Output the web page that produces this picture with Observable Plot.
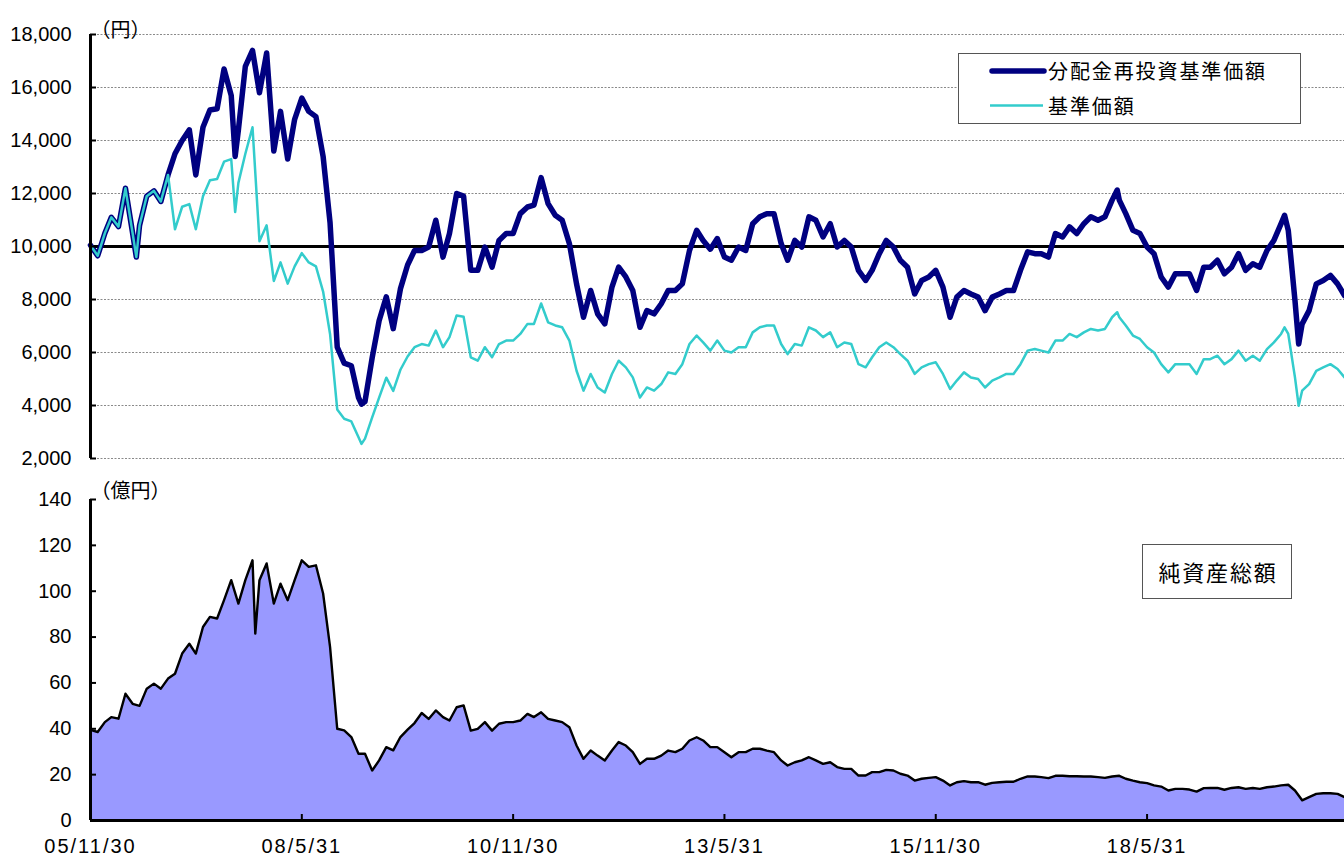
<!DOCTYPE html>
<html><head><meta charset="utf-8">
<script src="https://cdn.jsdelivr.net/npm/d3@7"></script>
<script src="https://cdn.jsdelivr.net/npm/@observablehq/plot@0.6"></script>
<style>
body{margin:0;background:#fff;}
#chart{position:relative;width:1344px;height:855px;font-family:"Noto Sans CJK JP",sans-serif;color:#000;}
#chart svg{display:block;}
.box{position:absolute;border:1px solid #555;background:#fff;box-sizing:border-box;}
.lbl{position:absolute;white-space:nowrap;}
</style></head><body><div id="chart"></div>
<script>
// ---- data (month-end values, starting 2005-11-30) ----
const navy = [
 10050, 9650,10500,11100,10750,12200,10500,10800,11900,12100,11700,12700,
 13500,14000,14400,12700,14500,15150,15200,16700,15700,14400,16800,17400,
 15800,17300,13600,15100,13300,14800,15600,15100,14900,13400,10900, 6200,
  5600, 5500, 4300, 4150, 5800, 7200, 8100, 6900, 8400, 9300, 9850, 9850,
  9980,10990, 9600,10490,12000,11900, 9100, 9100, 9980, 9220,10230,10490,
 10490,11240,11490,11560,12600,11620,11180,10990,10110, 8590, 7330, 8340,
  7460, 7080, 8470, 9220, 8850, 8340, 6950, 7580, 7460, 7840, 8340, 8340,
  8590, 9850,10610,10230, 9900,10300, 9600, 9480, 9980, 9850,10860,11120,
 11240,11240,10110, 9480,10230, 9980,11120,10990,10360,10860, 9980,10230,
  9980, 9100, 8720, 9100, 9730,10230, 9980, 9480, 9220, 8210, 8720, 8850,
  9100, 8470, 7330, 8090, 8340, 8210, 8090, 7580, 8090, 8210, 8340, 8340,
  9100, 9800, 9730, 9730, 9600,10490,10360,10740,10490,10860,11120,10990,
 11120,11750,11750,11240,10610,10490, 9980, 9730, 8850, 8470, 8970, 8970,
  8970, 8340, 9220, 9220, 9480, 8970, 9220, 9730, 9100, 9350, 9220, 9850,
 10230,10860,10610, 7960, 7080, 7580, 8590, 8720, 8910, 8590, 8150];
const cyan = [
 10050, 9650,10500,11100,10750,12200,10500,10800,11900,12100,11700,12700,
 10650,11500,11600,10650,11900,12500,12550,13200,13300,12400,13500,14500,
 10200,10800, 8700, 9400, 8600, 9250, 9750, 9400, 9250, 8300, 6700, 3850,
  3500, 3400, 2800, 2750, 3550, 4300, 5050, 4550, 5350, 5850, 6200, 6320,
  6260, 6830, 6200, 6580, 7400, 7350, 5820, 5690, 6200, 5820, 6320, 6450,
  6450, 6700, 7080, 7080, 7850, 7140, 7020, 6950, 6450, 5310, 4560, 5190,
  4680, 4490, 5190, 5690, 5440, 5060, 4300, 4680, 4560, 4810, 5250, 5190,
  5560, 6320, 6640, 6380, 6070, 6450, 6070, 6000, 6200, 6200, 6760, 6950,
  7020, 7020, 6320, 5940, 6320, 6260, 6950, 6830, 6580, 6760, 6200, 6380,
  6320, 5560, 5440, 5820, 6200, 6380, 6200, 5940, 5690, 5190, 5440, 5560,
  5630, 5190, 4620, 4940, 5250, 5060, 5000, 4680, 4940, 5060, 5190, 5190,
  5560, 6070, 6130, 6070, 6000, 6450, 6450, 6700, 6580, 6760, 6890, 6830,
  6890, 7330, 7330, 7020, 6640, 6510, 6200, 6000, 5560, 5250, 5560, 5560,
  5560, 5190, 5750, 5750, 5880, 5560, 5750, 6070, 5690, 5880, 5690, 6130,
  6380, 6700, 6700, 5060, 4560, 4810, 5310, 5440, 5560, 5380, 5060];
const assets = [
 39.5,38.6,42.9,45.1,44.4,55.3,50.9,50.0,57.5,59.7,57.5,61.9,
 64.0,72.8,77.1,72.8,84.4,88.8,88.1,96.1,104.8,94.6,104.8,113.5,
 104.8,112.1,94.6,103.3,96.1,104.8,113.5,110.6,111.3,99.0,75.7,40.0,
 39.3,36.4,29.1,29.1,21.8,26.2,32.0,30.6,36.4,39.6,42.5,46.9,
 44.3,48.0,45.1,43.6,49.4,50.2,39.2,40.0,42.9,39.2,42.2,42.9,
 42.9,43.6,46.5,45.1,47.2,44.3,43.6,42.9,40.7,32.7,26.9,30.5,
 28.3,26.2,30.5,34.2,32.7,29.8,24.7,26.9,26.9,28.3,30.5,29.8,
 31.3,34.9,36.3,34.9,32.0,32.0,29.8,27.6,29.8,29.8,31.3,31.3,
 30.5,29.8,26.2,24.0,25.4,26.2,27.6,26.2,24.7,25.4,23.3,22.5,
 22.5,19.6,19.6,21.1,21.1,22.1,21.8,20.4,19.6,17.4,18.2,18.6,
 18.9,17.4,15.3,16.7,17.2,16.7,16.7,15.6,16.4,16.7,16.9,16.9,
 18.2,19.2,19.2,18.9,18.5,19.5,19.5,19.3,19.3,19.2,19.2,18.9,
 18.6,19.2,19.5,18.2,17.4,16.7,16.3,15.3,14.8,13.1,13.8,13.8,
 13.5,12.6,14.1,14.2,14.2,13.4,14.2,14.5,13.8,14.2,13.8,14.5,
 14.8,15.3,15.6,13.1,8.8,10.2,11.6,11.9,11.9,11.6,10.2];
// extra daily extremes
const priceExtraDates = ["2006-06-16","2007-08-17","2009-02-13","2018-01-22","2020-01-15","2020-03-16"];
const navyExtra = [9600, 13400, 4050, 12130, 11180, 6320];
const cyanExtra = [9600, 11300, 2550, 7520, 6950, 3990];
const assetExtraDates = ["2007-11-12"];
const assetExtra = [81.5];

const priceTicks = [2000,4000,6000,8000,10000,12000,14000,16000,18000];
const assetTicks = [0,20,40,60,80,100,120,140];
const xTickDates = ["2005-11-30","2008-05-31","2010-11-30","2013-05-31","2015-11-30","2018-05-31"];
const xTickLabels = ["05/11/30","08/5/31","10/11/30","13/5/31","15/11/30","18/5/31"];
const xDomain = ["2005-11-30","2020-09-30"];
const seriesNames = ["分配金再投資基準価額","基準価額"];
const assetName = "純資産総額";

// ---- build tables ----
const monthEnd = i => d3.utcDay.offset(d3.utcMonth.offset(new Date(Date.UTC(2005, 11, 1)), i), -1);
const priceRows = navy.map((v, i) => ({date: monthEnd(i), navy: v, cyan: cyan[i]}))
  .concat(priceExtraDates.map((d, i) => ({date: new Date(d), navy: navyExtra[i], cyan: cyanExtra[i]})))
  .sort((a, b) => a.date - b.date);
const assetRows = assets.map((v, i) => ({date: monthEnd(i), v}))
  .concat(assetExtraDates.map((d, i) => ({date: new Date(d), v: assetExtra[i]})))
  .sort((a, b) => a.date - b.date);
const xd = xDomain.map(d => new Date(d));
const xt = xTickDates.map(d => new Date(d));

const FONT = '"Noto Sans CJK JP", sans-serif';
const NUMFONT = '"Liberation Sans", Arial, sans-serif';
const W = 1344, ML = 90;
const frameW = W - ML;

const topPlot = Plot.plot({
  width: W, height: 470, marginLeft: ML, marginRight: 0, marginTop: 34, marginBottom: 12,
  x: {type: "utc", domain: xd, axis: null, label: null},
  y: {domain: [2000, 18000], axis: null, label: null},
  style: {fontFamily: FONT, fontSize: "20px", color: "#000", background: "transparent", overflow: "visible"},
  marks: [
    Plot.ruleY(priceTicks.filter(d => d !== 10000), {y: d => d, stroke: "#8a8a8a", strokeWidth: 1, strokeDasharray: "2,1.5"}),
    Plot.ruleY([10000], {y: d => d, stroke: "#000", strokeWidth: 3}),
    Plot.lineY(priceRows, {x: "date", y: "navy", stroke: "#000080", strokeWidth: 5.5, strokeLinejoin: "round", strokeLinecap: "round"}),
    Plot.lineY(priceRows, {x: "date", y: "cyan", stroke: "#33CCCC", strokeWidth: 2.5, strokeLinejoin: "round"}),
    Plot.ruleX([xd[0]], {x: d => d, stroke: "#000", strokeWidth: 3}),
    Plot.tickY(priceTicks, {y: d => d, stroke: "#000", strokeWidth: 2, insetRight: frameW - 6}),
    Plot.axisY({ticks: priceTicks, tickSize: 0, tickPadding: 19, tickFormat: d3.format(","), fontSize: 20, fontFamily: NUMFONT, label: null}),
    Plot.text(["（円）"], {frameAnchor: "top-left", dx: 0, dy: -12, textAnchor: "start", fontSize: 20})
  ]
});

const botPlot = Plot.plot({
  width: W, height: 385, marginLeft: ML, marginRight: 0, marginTop: 29, marginBottom: 35,
  x: {type: "utc", domain: xd, label: null},
  y: {domain: [0, 140], label: null},
  style: {fontFamily: FONT, fontSize: "20px", color: "#000", background: "transparent", overflow: "visible"},
  marks: [
    Plot.areaY(assetRows, {x: "date", y: "v", fill: "#9999FF"}),
    Plot.lineY(assetRows, {x: "date", y: "v", stroke: "#000", strokeWidth: 2.4, strokeLinejoin: "round"}),
    Plot.ruleX([xd[0]], {x: d => d, stroke: "#000", strokeWidth: 3}),
    Plot.ruleY([0], {y: d => d, stroke: "#000", strokeWidth: 3}),
    Plot.tickY(assetTicks, {y: d => d, stroke: "#000", strokeWidth: 2, insetRight: frameW - 6}),
    Plot.tickX(xt, {x: d => d, stroke: "#000", strokeWidth: 2, insetTop: 321 - 6}),
    Plot.axisY({ticks: assetTicks, tickSize: 0, tickPadding: 19, fontSize: 20, fontFamily: NUMFONT, label: null}),
    Plot.axisX({ticks: xt, tickSize: 0, tickPadding: 18, fontSize: 20, fontFamily: NUMFONT, label: null,
      tickFormat: d => xTickLabels[xt.findIndex(t => +t === +d)]}),
    Plot.text(["（億円）"], {frameAnchor: "top-left", dx: 0, dy: -16, textAnchor: "start", fontSize: 20})
  ]
});
d3.select(botPlot).selectAll('[aria-label="x-axis tick label"] text').attr("letter-spacing", "2");

const chart = document.getElementById("chart");
chart.appendChild(topPlot);
chart.appendChild(botPlot);

// legend (top panel)
const leg = document.createElement("div");
leg.className = "box";
Object.assign(leg.style, {left: "958px", top: "53px", width: "343px", height: "71px"});
chart.appendChild(leg);
const legSvg = d3.select(chart).append("svg")
  .attr("width", 70).attr("height", 70)
  .style("position", "absolute").style("left", "980px").style("top", "45px");
legSvg.append("line").attr("x1", 12).attr("x2", 64).attr("y1", 26).attr("y2", 26)
  .attr("stroke", "#000080").attr("stroke-width", 5.5).attr("stroke-linecap", "round");
legSvg.append("line").attr("x1", 10).attr("x2", 63).attr("y1", 60.5).attr("y2", 60.5)
  .attr("stroke", "#33CCCC").attr("stroke-width", 2.5);
[[seriesNames[0], 71], [seriesNames[1], 106]].forEach(([t, cy]) => {
  const d = document.createElement("div");
  d.className = "lbl";
  d.textContent = t;
  Object.assign(d.style, {left: "1048px", top: (cy - 15) + "px", height: "30px", lineHeight: "30px",
    fontSize: "20px", letterSpacing: "1.9px"});
  chart.appendChild(d);
});

// net assets label (bottom panel)
const ab = document.createElement("div");
ab.className = "box";
ab.textContent = assetName;
Object.assign(ab.style, {left: "1142px", top: "544px", width: "150px", height: "55px", lineHeight: "53px",
  textAlign: "center", fontSize: "22px", letterSpacing: "1.8px", paddingLeft: "2px"});
chart.appendChild(ab);
</script></body></html>
